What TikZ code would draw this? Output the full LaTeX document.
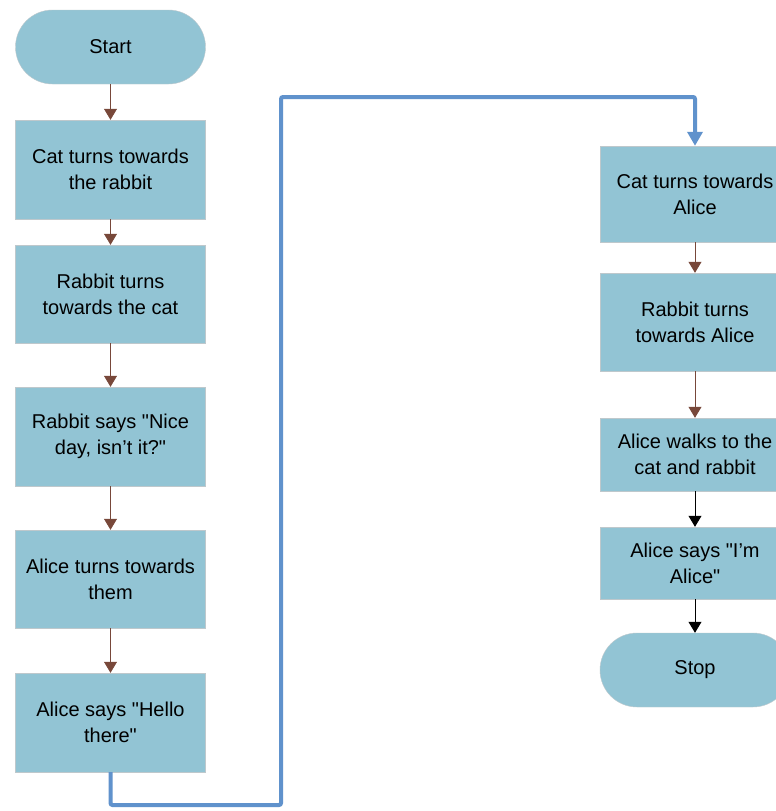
\documentclass[tikz,border=0pt]{standalone}
\usepackage{fontspec}
\setmainfont{Liberation Sans}
\usetikzlibrary{arrows.meta}
\definecolor{boxfill}{RGB}{146,196,212}
\definecolor{boxline}{RGB}{190,200,204}
\definecolor{stepbrown}{RGB}{120,72,58}
\definecolor{jumpblue}{RGB}{96,146,204}
\newcommand{\qq}{\textquotedbl}
\begin{document}
\begin{tikzpicture}
[
    x=1pt, y=-1pt,
    every node/.style={font=\fontsize{20}{26}\selectfont, align=center, inner sep=0pt},
    stepbox/.style={draw=boxline, fill=boxfill, minimum width=190pt},
    endbox/.style={stepbox, rounded corners=37pt, minimum height=74pt},
    flow/.style={draw=stepbrown, line width=0.8pt, -{Triangle[width=13pt,length=11pt]}}
]
    \clip (0,0) rectangle (776,811);
    \fill[white] (0,0) rectangle (776,811);

    \begin{scope}
        \node [endbox] (start) at (110.5,47) {Start};
        \node [stepbox, minimum height=99pt] (catrabbit) at (110.5,169.5) {Cat turns towards\\the rabbit};
        \node [stepbox, minimum height=98pt] (rabbitcat) at (110.5,294) {Rabbit turns\\towards the cat};
        \node [stepbox, minimum height=99pt] (rabbitsays) at (110.5,436.5) {Rabbit says \qq Nice\\day, isn't it?\qq};
        \node [stepbox, minimum height=98pt] (aliceturns) at (110.5,579) {Alice turns towards\\them};
        \node [stepbox, minimum height=99pt] (alicehello) at (110.5,722.5) {Alice says \qq Hello\\there\qq};
        \draw [flow] (start) -- (catrabbit);
        \draw [flow] (catrabbit) -- (rabbitcat);
        \draw [flow] (rabbitcat) -- (rabbitsays);
        \draw [flow] (rabbitsays) -- (aliceturns);
        \draw [flow] (aliceturns) -- (alicehello);
    \end{scope}

    \begin{scope}
        \node [stepbox, minimum height=96pt] (catalice) at (695,194) {Cat turns towards\\Alice};
        \node [stepbox, minimum height=98pt] (rabbitalice) at (695,322) {Rabbit turns\\towards Alice};
        \node [stepbox, minimum height=73pt] (alicewalks) at (695,454.5) {Alice walks to the\\cat and rabbit};
        \node [stepbox, minimum height=72pt] (alicesays) at (695,563) {Alice says \qq I'm\\Alice\qq};
        \node [endbox] (stop) at (695,670) {Stop};
        \draw [flow] (catalice) -- (rabbitalice);
        \draw [flow] (rabbitalice) -- (alicewalks);
        \draw [flow, draw=black] (alicewalks) -- (alicesays);
        \draw [flow, draw=black] (alicesays) -- (stop);
    \end{scope}

    % jump to the second column
    \coordinate (lowturn) at (281,805);
    \coordinate (highturn) at (281,97);
    \draw [jumpblue, line width=4pt, rounded corners=2pt, -{Triangle[width=15pt,length=14pt]}]
        (alicehello.south) |- (lowturn) -- (highturn) -| (catalice.north);
\end{tikzpicture}
\end{document}
